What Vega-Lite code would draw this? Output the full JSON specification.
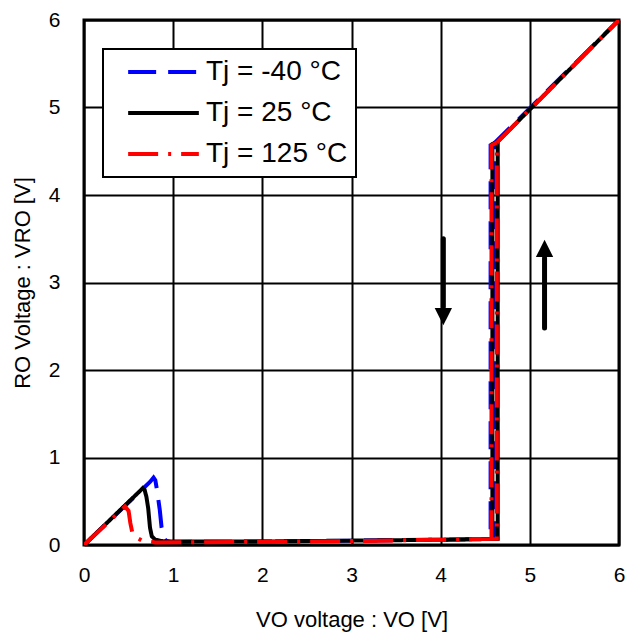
{
  "$schema": "https://vega.github.io/schema/vega-lite/v6.json",
  "width": 535,
  "height": 525,
  "autosize": {"type": "none"},
  "padding": {"left": 84, "top": 20, "right": 9, "bottom": 91},
  "background": "white",
  "config": {
    "font": "Liberation Sans",
    "view": {"stroke": "black", "strokeWidth": 3},
    "axis": {
      "domain": false,
      "ticks": false,
      "grid": true,
      "gridColor": "black",
      "gridWidth": 2,
      "gridOpacity": 1,
      "labelFlush": false,
      "labelFont": "Liberation Sans",
      "labelFontSize": 21,
      "labelColor": "black",
      "titleFont": "Liberation Sans",
      "titleFontSize": 22,
      "titleFontWeight": "normal",
      "titleColor": "black"
    }
  },
  "datasets": {
    "curves": [
      {"series": "Tj = -40 °C", "branch": "a", "ord": 1, "x": 0, "y": 0},
      {"series": "Tj = -40 °C", "branch": "a", "ord": 2, "x": 0.74, "y": 0.72},
      {"series": "Tj = -40 °C", "branch": "a", "ord": 3, "x": 0.78, "y": 0.77},
      {"series": "Tj = -40 °C", "branch": "a", "ord": 4, "x": 0.8, "y": 0.74},
      {"series": "Tj = -40 °C", "branch": "a", "ord": 5, "x": 0.82, "y": 0.62},
      {"series": "Tj = -40 °C", "branch": "a", "ord": 6, "x": 0.85, "y": 0.4},
      {"series": "Tj = -40 °C", "branch": "a", "ord": 7, "x": 0.87, "y": 0.2},
      {"series": "Tj = -40 °C", "branch": "a", "ord": 8, "x": 0.89, "y": 0.09},
      {"series": "Tj = -40 °C", "branch": "a", "ord": 9, "x": 0.92, "y": 0.05},
      {"series": "Tj = -40 °C", "branch": "a", "ord": 10, "x": 0.97, "y": 0.035},
      {"series": "Tj = -40 °C", "branch": "a", "ord": 11, "x": 2, "y": 0.04},
      {"series": "Tj = -40 °C", "branch": "a", "ord": 12, "x": 3, "y": 0.05},
      {"series": "Tj = -40 °C", "branch": "a", "ord": 13, "x": 4, "y": 0.06},
      {"series": "Tj = -40 °C", "branch": "a", "ord": 14, "x": 4.6, "y": 0.07},
      {"series": "Tj = -40 °C", "branch": "a", "ord": 15, "x": 4.6, "y": 4.59},
      {"series": "Tj = -40 °C", "branch": "a", "ord": 16, "x": 6, "y": 6},
      {"series": "Tj = -40 °C", "branch": "b", "ord": 1, "x": 4.6, "y": 4.59},
      {"series": "Tj = -40 °C", "branch": "b", "ord": 2, "x": 4.56, "y": 4.57},
      {"series": "Tj = -40 °C", "branch": "b", "ord": 3, "x": 4.56, "y": 0.065},
      {"series": "Tj = 25 °C", "branch": "a", "ord": 1, "x": 0, "y": 0},
      {"series": "Tj = 25 °C", "branch": "a", "ord": 2, "x": 0.62, "y": 0.61},
      {"series": "Tj = 25 °C", "branch": "a", "ord": 3, "x": 0.66, "y": 0.65},
      {"series": "Tj = 25 °C", "branch": "a", "ord": 4, "x": 0.68, "y": 0.63},
      {"series": "Tj = 25 °C", "branch": "a", "ord": 5, "x": 0.7, "y": 0.55},
      {"series": "Tj = 25 °C", "branch": "a", "ord": 6, "x": 0.72, "y": 0.42},
      {"series": "Tj = 25 °C", "branch": "a", "ord": 7, "x": 0.74, "y": 0.2},
      {"series": "Tj = 25 °C", "branch": "a", "ord": 8, "x": 0.76, "y": 0.1},
      {"series": "Tj = 25 °C", "branch": "a", "ord": 9, "x": 0.8, "y": 0.06},
      {"series": "Tj = 25 °C", "branch": "a", "ord": 10, "x": 0.9, "y": 0.04},
      {"series": "Tj = 25 °C", "branch": "a", "ord": 11, "x": 2, "y": 0.04},
      {"series": "Tj = 25 °C", "branch": "a", "ord": 12, "x": 3, "y": 0.05},
      {"series": "Tj = 25 °C", "branch": "a", "ord": 13, "x": 4, "y": 0.06},
      {"series": "Tj = 25 °C", "branch": "a", "ord": 14, "x": 4.64, "y": 0.07},
      {"series": "Tj = 25 °C", "branch": "a", "ord": 15, "x": 4.64, "y": 4.61},
      {"series": "Tj = 25 °C", "branch": "a", "ord": 16, "x": 6, "y": 6},
      {"series": "Tj = 25 °C", "branch": "b", "ord": 1, "x": 4.64, "y": 4.61},
      {"series": "Tj = 25 °C", "branch": "b", "ord": 2, "x": 4.58, "y": 4.58},
      {"series": "Tj = 25 °C", "branch": "b", "ord": 3, "x": 4.58, "y": 0.065},
      {"series": "Tj = 125 °C", "branch": "a", "ord": 1, "x": 0, "y": 0},
      {"series": "Tj = 125 °C", "branch": "a", "ord": 2, "x": 0.46, "y": 0.44},
      {"series": "Tj = 125 °C", "branch": "a", "ord": 3, "x": 0.5, "y": 0.39},
      {"series": "Tj = 125 °C", "branch": "a", "ord": 4, "x": 0.52, "y": 0.25},
      {"series": "Tj = 125 °C", "branch": "a", "ord": 5, "x": 0.54, "y": 0.15},
      {"series": "Tj = 125 °C", "branch": "a", "ord": 6, "x": 0.58, "y": 0.09},
      {"series": "Tj = 125 °C", "branch": "a", "ord": 7, "x": 0.65, "y": 0.05},
      {"series": "Tj = 125 °C", "branch": "a", "ord": 8, "x": 0.8, "y": 0.03},
      {"series": "Tj = 125 °C", "branch": "a", "ord": 9, "x": 2, "y": 0.035},
      {"series": "Tj = 125 °C", "branch": "a", "ord": 10, "x": 3, "y": 0.045},
      {"series": "Tj = 125 °C", "branch": "a", "ord": 11, "x": 4, "y": 0.06},
      {"series": "Tj = 125 °C", "branch": "a", "ord": 12, "x": 4.63, "y": 0.07},
      {"series": "Tj = 125 °C", "branch": "a", "ord": 13, "x": 4.63, "y": 4.6},
      {"series": "Tj = 125 °C", "branch": "a", "ord": 14, "x": 6, "y": 6},
      {"series": "Tj = 125 °C", "branch": "b", "ord": 1, "x": 4.63, "y": 4.6},
      {"series": "Tj = 125 °C", "branch": "b", "ord": 2, "x": 4.57, "y": 4.57},
      {"series": "Tj = 125 °C", "branch": "b", "ord": 3, "x": 4.57, "y": 0.065}
    ],
    "shafts": [
      {"x": 4.03, "y": 3.5, "y2": 2.72},
      {"x": 5.165, "y": 2.48, "y2": 3.28}
    ],
    "heads": [
      {"x": 4.03, "y": 2.61, "dir": "down"},
      {"x": 5.165, "y": 3.39, "dir": "up"}
    ]
  },
  "layer": [
    {
      "data": {"name": "curves"},
      "mark": {"type": "line", "strokeWidth": 4, "clip": true},
      "encoding": {
        "x": {
          "field": "x", "type": "quantitative",
          "scale": {"domain": [0, 6], "nice": false, "zero": false},
          "axis": {"values": [0, 1, 2, 3, 4, 5, 6], "format": "d", "labelPadding": 19, "title": "VO voltage : VO [V]", "titlePadding": 24}
        },
        "y": {
          "field": "y", "type": "quantitative",
          "scale": {"domain": [0, 6], "nice": false, "zero": false},
          "axis": {"values": [0, 1, 2, 3, 4, 5, 6], "format": "d", "labelPadding": 24, "title": "RO Voltage : VRO [V]", "titlePadding": 14}
        },
        "color": {
          "field": "series", "type": "nominal",
          "scale": {"domain": ["Tj = -40 °C", "Tj = 25 °C", "Tj = 125 °C"], "range": ["#0000FF", "#000000", "#FF0000"]},
          "legend": {
            "title": null,
            "orient": "none",
            "legendX": 19,
            "legendY": 29,
            "fillColor": "white",
            "strokeColor": "black",
            "padding": 8,
            "clipHeight": 30,
            "labelFontSize": 28,
            "labelFont": "Liberation Sans",
            "labelColor": "black",
            "labelOffset": 5,
            "symbolType": "stroke",
            "symbolSize": 5000,
            "symbolStrokeWidth": 4,
            "symbolOffset": 15,
            "rowPadding": 11,
            "encode": {"legend": {"update": {"strokeWidth": {"value": 2}}}}
          }
        },
        "strokeDash": {
          "field": "series", "type": "nominal",
          "scale": {"domain": ["Tj = -40 °C", "Tj = 25 °C", "Tj = 125 °C"], "range": [[28, 12], [1, 0], [30, 10, 3, 10]]},
          "legend": null
        },
        "detail": {"field": "branch"},
        "order": {"field": "ord", "type": "quantitative"}
      }
    },
    {
      "data": {"name": "shafts"},
      "mark": {"type": "rule", "color": "black", "strokeWidth": 5, "strokeCap": "round"},
      "encoding": {
        "x": {"field": "x", "type": "quantitative"},
        "y": {"field": "y", "type": "quantitative"},
        "y2": {"field": "y2"}
      }
    },
    {
      "data": {"name": "heads"},
      "mark": {"type": "point", "filled": true, "color": "black", "opacity": 1, "size": 300},
      "encoding": {
        "x": {"field": "x", "type": "quantitative"},
        "y": {"field": "y", "type": "quantitative"},
        "shape": {
          "field": "dir", "type": "nominal",
          "scale": {"domain": ["down", "up"], "range": ["M-1,-1L1,-1L0,1Z", "M-1,1L1,1L0,-1Z"]},
          "legend": null
        }
      }
    }
  ]
}
